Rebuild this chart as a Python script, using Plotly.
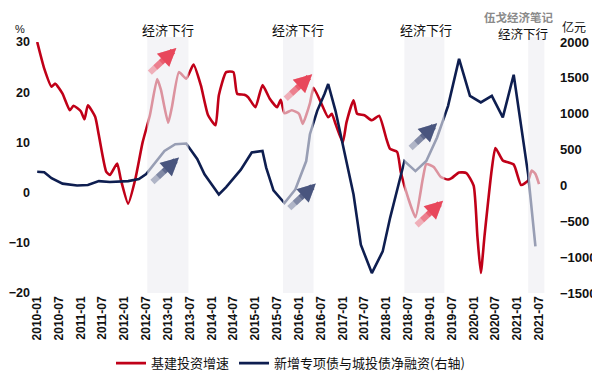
import plotly.graph_objects as go

# ---------------- data ----------------
infra_dates = ["2010-01","2010-03","2010-05","2010-06","2010-08","2010-10","2010-11","2011-01","2011-02","2011-03",
               "2011-05","2011-06","2011-08","2011-09","2011-11","2011-12","2012-02","2012-04","2012-06","2012-08",
               "2012-10","2012-11","2013-01","2013-02","2013-04","2013-06","2013-08","2013-10","2013-12","2014-02",
               "2014-03","2014-05","2014-07","2014-08","2014-10","2014-11","2015-01","2015-03","2015-05","2015-07",
               "2015-08","2015-09","2015-11","2016-01","2016-02","2016-04","2016-05","2016-07","2016-09","2016-10",
               "2016-11","2017-01","2017-02","2017-04","2017-05","2017-07","2017-09","2017-11","2018-01","2018-02",
               "2018-04","2018-05","2018-07","2018-09","2018-11","2018-12","2019-02","2019-04","2019-06","2019-07",
               "2019-09","2019-11","2020-01","2020-02","2020-03","2020-04","2020-06","2020-07","2020-09","2020-12",
               "2021-02","2021-04","2021-05","2021-06","2021-07"]
infra_growth = [30, 24.7, 21.1, 21.7, 19.7, 16.4, 17.3, 16.2, 14.6, 17.4,
                15.1, 11.4, 4.2, 3.5, 5.8, 2.7, -2.2, 2.7, 10, 15.4,
                22.6, 20.5, 13.9, 17, 24, 22.7, 25.5, 21.4, 15.4, 13.4,
                19.4, 24, 24, 19.7, 19.5, 19, 17, 21.4, 18.7, 17,
                18.5, 15.8, 16.4, 15.7, 13.7, 17.8, 20.9, 18, 15, 15.7,
                13.7, 10, 14, 18.4, 15.7, 15.4, 14.4, 15.3, 10.7, 8.7,
                8.1, 4.1, -1, -4.9, 2.7, 5.7, 5.1, 3.1, 2.6, 2.9,
                4.0, 3.9, 1.4, -8.6, -16, -8.6, 4.7, 8.9, 6.4, 5.6,
                1.5, 2.4, 4.4, 3.7, 1.7]

bond_dates = ["2010-01","2010-03","2010-05","2010-08","2010-12","2011-03","2011-06","2011-09","2012-02","2012-05",
              "2012-07","2012-10","2012-12","2013-03","2013-06","2013-09","2013-11","2014-03","2014-05","2014-09",
              "2014-12","2015-03","2015-04","2015-06","2015-09","2015-12","2016-03","2016-04","2016-06","2016-08",
              "2016-09","2016-11","2017-01","2017-04","2017-06","2017-09","2017-12","2018-02","2018-06","2018-08",
              "2018-09","2018-12","2019-03","2019-06","2019-09","2019-12","2020-03","2020-06","2020-09","2020-12",
              "2021-02","2021-04","2021-06"]
bond_financing = [190, 185, 100, 25, 0, 5, 60, 47, 60, 90,
                  160, 360, 480, 574, 584, 370, 154, -126, -24, 220,
                  460, 480, 248, -70, -245, -56, 340, 714, 1040, 1274,
                  1414, 1040, 574, -126, -826, -1222, -920, -452, 340, 250,
                  200, 340, 668, 1110, 1764, 1250, 1158, 1250, 948, 1544,
                  854, 154, -850]

downturn_periods = [("2012-07-10", "2013-06-20"), ("2015-08-20", "2016-05-01"),
                    ("2018-06-01", "2019-05-01"), ("2021-04-01", "2021-08-15")]
downturn_label = "经济下行"
x_ticks_start = "2010-01-01"

series1_name = "基建投资增速"
series2_name = "新增专项债与城投债净融资(右轴)"

RED = "#C00018"
NAVY = "#0E1E50"
CJK = "Noto Sans CJK SC"
LAT = "Liberation Sans"

fig = go.Figure()
fig.add_trace(go.Scatter(x=infra_dates, y=infra_growth, name=series1_name, mode="lines",
                         line=dict(color=RED, width=2.6, shape="spline", smoothing=0.5), yaxis="y"))
fig.add_trace(go.Scatter(x=bond_dates, y=bond_financing, name=series2_name, mode="lines",
                         line=dict(color=NAVY, width=2.6), yaxis="y2"))

# shaded downturn periods (above lines to fade them)
for (a, b) in downturn_periods:
    fig.add_shape(type="rect", xref="x", yref="paper", x0=a, x1=b, y0=0, y1=1.02,
                  fillcolor="rgba(238,238,242,0.62)", line_width=0, layer="above")

# labels above shading
label_pos = [("2013-01-01", 1.05, 13), ("2015-12-20", 1.05, 13), ("2018-12-01", 1.05, 13),
             ("2021-02-20", 1.034, 12.5)]
for lx, ly, fs in label_pos:
    fig.add_annotation(x=lx, y=ly, xref="x", yref="paper", text=downturn_label, showarrow=False,
                       yanchor="middle", borderpad=0, font=dict(family=CJK, size=fs, color="#111"))

# gradient arrows (stacked semi-transparent arrows)
arrows = [("2013-03-10", 28.8, RED), ("2013-04-01", 7.0, NAVY),
          ("2016-04-20", 23.6, RED), ("2016-05-20", 1.8, NAVY),
          ("2019-04-20", -1.6, RED), ("2019-03-01", 13.8, NAVY)]
for (hx, hy, col) in arrows:
    rgb = (230, 20, 45) if col == RED else (22, 38, 90)
    for f in [1.0, 0.8, 0.6, 0.4]:
        fig.add_annotation(x=hx, y=hy, xref="x", yref="y", ax=-28 * f, ay=26 * f,
                           showarrow=True, arrowhead=2, arrowsize=0.6, arrowwidth=6,
                           arrowcolor=f"rgba({rgb[0]},{rgb[1]},{rgb[2]},0.3)", text="")

fig.add_annotation(x=-0.045, y=1.05, xref="paper", yref="paper", text="%", showarrow=False,
                   xanchor="left", yanchor="middle", font=dict(family=LAT, size=11, color="#111"))
fig.add_annotation(x=1.029, y=1.06, xref="paper", yref="paper", text="亿元", showarrow=False,
                   xanchor="left", yanchor="middle", font=dict(family=CJK, size=12, color="#111"))
fig.add_annotation(x=0.947, y=1.1355, xref="paper", yref="paper", text="<b>伍戈经济笔记</b>",
                   showarrow=False, xanchor="center", yanchor="top", borderpad=0,
                   font=dict(family=CJK, size=11.5, color="#8a8a8a"))

fig.update_layout(
    width=600, height=375,
    margin=dict(l=28, r=63, t=34, b=90, autoexpand=False),
    paper_bgcolor="white", plot_bgcolor="white",
    showlegend=True,
    legend=dict(orientation="h", x=0.5, xanchor="center", y=-0.22, yanchor="top",
                font=dict(family=CJK, size=13, color="#111"), itemwidth=30),
    xaxis=dict(type="date", range=["2009-12-22", "2021-08-20"], showgrid=False, zeroline=False,
               showline=False, tickmode="linear", tick0=x_ticks_start, dtick="M6", tickformat="%Y-%m",
               tickangle=-90, tickfont=dict(family=LAT, size=12, color="#111", weight="bold"),
               ticks="", automargin=False),
    yaxis=dict(range=[-20, 30], dtick=10, showgrid=False, zeroline=False, showline=False,
               tickfont=dict(family=LAT, size=12.5, color="#111", weight="bold"), ticklabelstandoff=5,
               automargin=False),
    yaxis2=dict(range=[-1500, 2000], dtick=500, overlaying="y", side="right", showgrid=False,
                zeroline=False, showline=False, automargin=False,
                tickfont=dict(family=LAT, size=13, color="#111", weight="bold"), ticklabelstandoff=14),
)
fig.write_html("out.html")
